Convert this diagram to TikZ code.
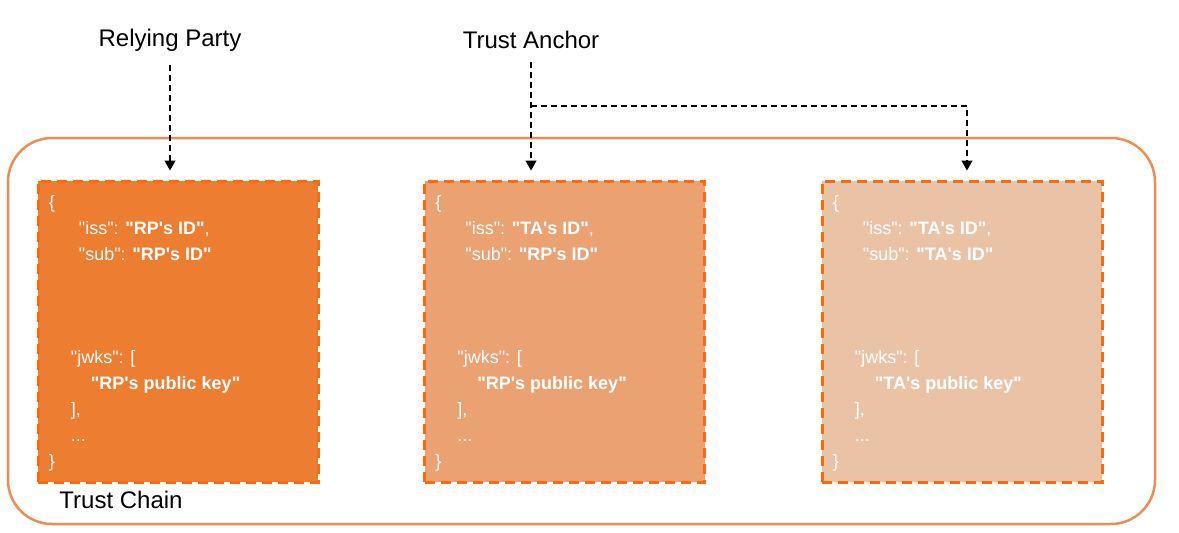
\documentclass[tikz,border=0pt]{standalone}
\usepackage{fontspec}
\setmainfont{Liberation Sans}[Ligatures=TeXOff]
\usetikzlibrary{arrows.meta,positioning}

\definecolor{rpfill}{RGB}{237,125,49}
\definecolor{tafill}{RGB}{234,162,115}
\definecolor{selffill}{RGB}{234,195,167}
\definecolor{dashorange}{RGB}{255,105,10}
\definecolor{chainline}{RGB}{239,140,82}

\begin{document}
\begin{tikzpicture}[x=0.5pt,y=-0.5pt,
  stmt/.style = {draw=dashorange, line width=1.5pt,
     dash pattern=on 5pt off 3pt,
     minimum width=140pt, minimum height=150.5pt, inner sep=0pt},
  json/.style = {text=white, align=left, anchor=north west,
     inner sep=0pt, font=\fontsize{9}{13}\selectfont},
  link/.style = {draw=black, line width=0.75pt,
     dash pattern=on 3pt off 2pt,
     -{Triangle[length=5pt,width=5.5pt]}},
  lbl/.style = {font=\fontsize{12}{14}\selectfont, inner sep=0pt}]

\useasboundingbox (0,0) rectangle (1179,532);
\draw[chainline, line width=1.25pt, rounded corners=22pt] (8,138) rectangle (1155,524);
\node[lbl, anchor=west] (tc) at (59,500) {Trust Chain};

% entity statements
\foreach \i/\x/\col/\iss/\sub/\key in {1/178/rpfill/RP/RP/RP, 2/564.5/tafill/TA/RP/RP, 3/962/selffill/TA/TA/TA} {
  \node[stmt, fill=\col] (b\i) at (\x,331.5) {};
  \node[json] (j\i) at ([xshift=6pt,yshift=-8pt]b\i.north west) {\{\\
    \hspace*{15pt}"iss": \textbf{"\iss's ID"},\\
    \hspace*{15pt}"sub": \textbf{"\sub's ID"}\\[38.5pt]
    \hspace*{11pt}"jwks": [\\
    \hspace*{21pt}\textbf{"\key's public key"}\\
    \hspace*{11pt}],\\
    \hspace*{11pt}...\\
    \}};
}

\node[lbl] (rp) at (170,40) {Relying Party};
\node[lbl] (ta) at (531,40) {Trust Anchor};
\coordinate (br) at (531,106);

\draw[link, shorten <=6.5pt, shorten >=4.5pt] (rp.south) -- (rp.south |- b1.north);
\draw[link, shorten <=6.5pt, shorten >=4.5pt] (ta.south) -- (ta.south |- b2.north);
\draw[link, shorten >=4.5pt] (br) -| ([xshift=2.5pt]b3.north);

\end{tikzpicture}
\end{document}
